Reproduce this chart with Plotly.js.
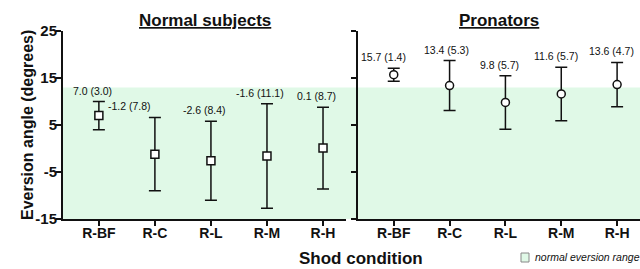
<!DOCTYPE html>
<html>
<head>
<meta charset="utf-8">
<script src="https://cdn.plot.ly/plotly-3.0.1.min.js"></script>
<style>html,body{margin:0;padding:0;background:#fff;}#chart{width:640px;height:269px;}</style>
</head>
<body>
<div id="chart"></div>
<script>
const categories = ['R-BF', 'R-C', 'R-L', 'R-M', 'R-H'];
const normalMean = [7.0, -1.2, -2.6, -1.6, 0.1];
const normalSD = [3.0, 7.8, 8.4, 11.1, 8.7];
const pronMean = [15.7, 13.4, 9.8, 11.6, 13.6];
const pronSD = [1.4, 5.3, 5.7, 5.7, 4.7];
const normalRange = [-15, 13];
const yTicks = [-15, -5, 5, 15, 25];
const panelTitles = ['Normal subjects', 'Pronators'];
const xTitle = 'Shod condition';
const yTitle = 'Eversion angle (degrees)';
const legendText = 'normal eversion range';

const W = 640, H = 269;
const FONT = 'Liberation Sans, Arial, sans-serif';
const px = v => v / W;
const py = v => 1 - v / H;
const bandColor = '#e0f9e7';

const leftDom = [px(63), px(346)];
const rightDom = [px(358), 1];
const yDom = [py(219), py(31)];
const xRange = [-0.64, 4.41];

function trace(mean, sd, xa, ya, sym) {
  return {
    type: 'scatter', mode: 'markers', x: categories, y: mean,
    xaxis: xa, yaxis: ya,
    error_y: {type: 'data', array: sd, visible: true, color: '#111', thickness: 1.5, width: 6},
    marker: {symbol: sym, size: 8, color: '#fff', line: {color: '#111', width: 1.5}},
    showlegend: false, hoverinfo: 'skip'
  };
}

const data = [
  trace(normalMean, normalSD, 'x', 'y', 'square'),
  trace(pronMean, pronSD, 'x2', 'y2', 'circle')
];

const normalShift = [-6, -25, -6, -7, -7];
const pronShift = [-10, -3, -6, -5, -6];
const annotations = [];
function labels(mean, sd, xref, yref, shifts) {
  categories.forEach((c, i) => {
    annotations.push({
      x: c, y: mean[i] + sd[i], xref: xref, yref: yref,
      text: mean[i].toFixed(1) + ' (' + sd[i].toFixed(1) + ')',
      showarrow: false, yshift: 11, xshift: shifts[i], xanchor: 'center', yanchor: 'middle',
      font: {family: FONT, size: 10.5, color: '#111'}
    });
  });
}
labels(normalMean, normalSD, 'x', 'y', normalShift);
labels(pronMean, pronSD, 'x2', 'y2', pronShift);

function paperText(x, y, text, size, extra) {
  return Object.assign({x: px(x), y: py(y), xref: 'paper', yref: 'paper', showarrow: false,
    xanchor: 'center', yanchor: 'middle', text: text,
    font: {family: FONT, size: size, color: '#111'}}, extra || {});
}

annotations.push(
  paperText(205, 20, '<b><u>' + panelTitles[0] + '</u></b>', 17),
  paperText(499, 20, '<b><u>' + panelTitles[1] + '</u></b>', 17),
  paperText(361, 258, '<b>' + xTitle + '</b>', 17),
  paperText(27, 125, '<b>' + yTitle + '</b>', 16, {textangle: -90}),
  paperText(533, 257, '<i>' + legendText + '</i>', 10.5, {xanchor: 'left'})
);

const shapes = [
  {type: 'rect', xref: 'paper', yref: 'y', x0: leftDom[0], x1: 1, y0: normalRange[0], y1: normalRange[1],
   fillcolor: bandColor, line: {width: 0}, layer: 'below'},
  {type: 'rect', xref: 'paper', yref: 'paper', x0: px(521), x1: px(529), y0: py(262), y1: py(253),
   fillcolor: bandColor, line: {width: 1, color: '#888'}}
];

function xaxis(dom, anchor) {
  return {
    domain: dom, anchor: anchor, type: 'category', range: xRange,
    showline: true, linecolor: '#111', linewidth: 2, ticks: 'outside', ticklen: 5, tickwidth: 2, tickcolor: '#111',
    showgrid: false, zeroline: false, fixedrange: true, ticklabelstandoff: -5,
    tickfont: {family: FONT, size: 14, color: '#111', weight: 'bold'}
  };
}
function yaxis(anchor, labelsOn) {
  return {
    domain: yDom, anchor: anchor, range: [-15, 25], tickvals: yTicks, ticktext: yTicks.map(String),
    showline: true, linecolor: '#111', linewidth: 2, ticks: 'outside', ticklen: 5, tickwidth: 1.5, tickcolor: '#111',
    showgrid: false, zeroline: false, showticklabels: labelsOn, fixedrange: true, ticklabelstandoff: -4,
    tickfont: {family: FONT, size: 15, color: '#111', weight: 'bold'}
  };
}

const layout = {
  width: W, height: H, margin: {l: 0, r: 0, t: 0, b: 0},
  paper_bgcolor: '#fff', plot_bgcolor: 'rgba(0,0,0,0)',
  xaxis: xaxis(leftDom, 'y'), yaxis: yaxis('x', true),
  xaxis2: xaxis(rightDom, 'y2'), yaxis2: yaxis('x2', false),
  annotations: annotations, shapes: shapes, showlegend: false
};

Plotly.newPlot('chart', data, layout, {staticPlot: true, displayModeBar: false});
</script>
</body>
</html>
